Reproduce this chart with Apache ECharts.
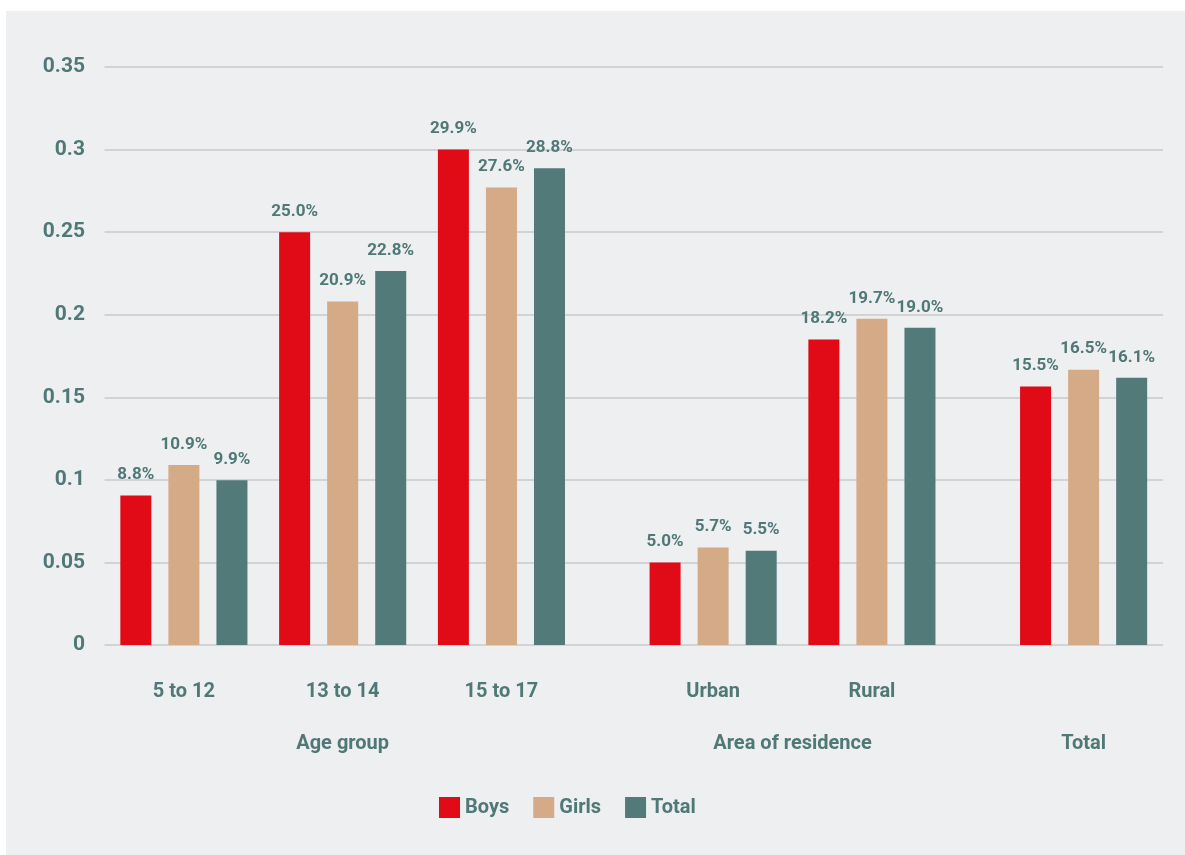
<!DOCTYPE html>
<html>
<head>
<meta charset="utf-8">
<script src="https://cdn.jsdelivr.net/npm/echarts@6/dist/echarts.min.js"></script>
<style>
  html, body { margin: 0; padding: 0; background: #ffffff; }
  #chart { position: absolute; left: 6px; top: 11px; width: 1179px; height: 844px; background: #eeeff1; }
</style>
</head>
<body>
<div id="chart"></div>
<script>
// ---- data ----
const categories = ['5 to 12', '13 to 14', '15 to 17', 'Urban', 'Rural', 'Total'];
const groupNames = ['Age group', 'Area of residence', 'Total'];
const seriesNames = ['Boys', 'Girls', 'Total'];
// bar heights as drawn
const boysValues  = [0.0905, 0.250, 0.300, 0.050, 0.185, 0.1565];
const girlsValues = [0.109, 0.208, 0.277, 0.059, 0.1975, 0.1667];
const totalValues = [0.0997, 0.2265, 0.2887, 0.0571, 0.1921, 0.1618];
// printed labels
const boysLabels  = ['8.8%', '25.0%', '29.9%', '5.0%', '18.2%', '15.5%'];
const girlsLabels = ['10.9%', '20.9%', '27.6%', '5.7%', '19.7%', '16.5%'];
const totalLabels = ['9.9%', '22.8%', '28.8%', '5.5%', '19.0%', '16.1%'];
const yTickLabels = ['0', '0.05', '0.1', '0.15', '0.2', '0.25', '0.3', '0.35'];

// ---- layout: categories placed on a 20-slot band axis ----
const SLOTS = 20;
const slotOf = [1, 4, 7, 11, 14, 18];
const groupPos = [4.5, 13, 18.5];
const catLabelShown = [true, true, true, true, true, false];

const slotNames = [];
for (let i = 0; i < SLOTS; i++) slotNames.push('_' + i);
const slotLabel = {};
categories.forEach((c, k) => { slotNames[slotOf[k]] = c; slotLabel[c] = catLabelShown[k] ? c : ''; });

function spread(arr) {
  const out = new Array(SLOTS).fill('-');
  arr.forEach((v, k) => { out[slotOf[k]] = v; });
  return out;
}
function spreadLabels(arr) {
  const out = new Array(SLOTS).fill('');
  arr.forEach((v, k) => { out[slotOf[k]] = v; });
  return out;
}

const textColor = '#4f7876';
const font = 'Roboto, "Noto Sans", sans-serif';
const colors = ['#e00b16', '#d5aa87', '#517a78'];
const valuesList = [boysValues, girlsValues, totalValues];
const labelsList = [boysLabels, girlsLabels, totalLabels];

const series = seriesNames.map((name, s) => {
  const lab = spreadLabels(labelsList[s]);
  return {
    name: name,
    type: 'bar',
    xAxisIndex: 0,
    yAxisIndex: 0,
    data: spread(valuesList[s]),
    barWidth: 31,
    barGap: '55%',
    itemStyle: { color: colors[s] },
    label: {
      show: true,
      position: 'top',
      distance: 12,
      color: textColor,
      fontFamily: font,
      fontWeight: 'bold',
      fontSize: 17,
      formatter: p => lab[p.dataIndex]
    }
  };
});

const groupLabelAt = {};
groupPos.forEach((p, k) => { groupLabelAt[p] = groupNames[k]; });

const chart = echarts.init(document.getElementById('chart'), null, { renderer: 'canvas' });
chart.setOption({
  animation: false,
  backgroundColor: '#eeeff1',
  color: colors,
  grid: { left: 98.5, right: 22, top: 56, bottom: 210, containLabel: false },
  legend: {
    data: seriesNames,
    left: 428,
    top: 781,
    icon: 'rect',
    itemWidth: 21,
    itemHeight: 21,
    itemGap: 24,
    textStyle: { color: textColor, fontFamily: font, fontWeight: 'bold', fontSize: 20 }
  },
  xAxis: [
    {
      type: 'category',
      data: slotNames,
      axisLine: { show: false },
      axisTick: { show: false },
      splitLine: { show: false },
      axisLabel: {
        interval: 0,
        margin: 37,
        color: textColor,
        fontFamily: font,
        fontWeight: 'bold',
        fontSize: 20,
        formatter: v => (v in slotLabel ? slotLabel[v] : '')
      }
    },
    {
      type: 'value',
      min: 0,
      max: SLOTS,
      interval: 0.5,
      position: 'bottom',
      axisLine: { show: false },
      axisTick: { show: false },
      splitLine: { show: false },
      axisLabel: {
        margin: 89,
        color: textColor,
        fontFamily: font,
        fontWeight: 'bold',
        fontSize: 20,
        showMinLabel: true,
        showMaxLabel: true,
        formatter: v => groupLabelAt[v] || ''
      }
    }
  ],
  yAxis: {
    type: 'value',
    min: 0,
    max: 0.35,
    interval: 0.05,
    axisLine: { show: false },
    axisTick: { show: false },
    splitLine: { show: true, lineStyle: { color: '#c9cacc', width: 1.5 } },
    axisLabel: {
      margin: 19.5,
      color: textColor,
      fontFamily: font,
      fontWeight: 'bold',
      fontSize: 21,
      formatter: (v) => yTickLabels[Math.round(v / 0.05)]
    }
  },
  series: series
});
</script>
</body>
</html>
